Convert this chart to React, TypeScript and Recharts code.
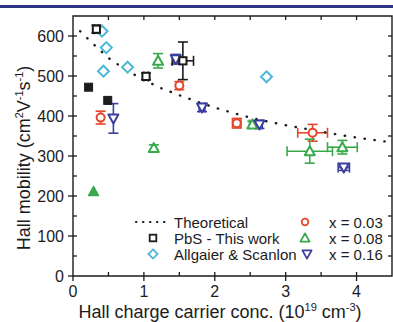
import {
  ErrorBar,
  ReferenceArea,
  ReferenceLine,
  Scatter,
  ScatterChart,
  XAxis,
  YAxis,
} from "recharts";

type Pt = { x: number; y: number; ex?: number; ey?: number };

const xTicks = [0, 1, 2, 3, 4];
const yTicks = [0, 100, 200, 300, 400, 500, 600];
const xMinorTicks = [0.5, 1, 1.5, 2, 2.5, 3, 3.5, 4];
const yMinorTicks = [50, 100, 150, 200, 250, 300, 350, 400, 450, 500, 550, 600];

const theoretical: Pt[] = [
  { x: 0.1, y: 612 },
  { x: 0.25, y: 586 },
  { x: 0.5, y: 545 },
  { x: 0.75, y: 515 },
  { x: 1.0, y: 490 },
  { x: 1.25, y: 469 },
  { x: 1.5, y: 452 },
  { x: 1.75, y: 436 },
  { x: 2.0, y: 421 },
  { x: 2.25, y: 408 },
  { x: 2.5, y: 396 },
  { x: 2.75, y: 386 },
  { x: 3.0, y: 377 },
  { x: 3.25, y: 369 },
  { x: 3.5, y: 361 },
  { x: 3.75, y: 353 },
  { x: 4.0, y: 346 },
  { x: 4.25, y: 340 },
  { x: 4.5, y: 334 },
];

const pbsOpen: Pt[] = [
  { x: 0.33, y: 617, ex: 0.03, ey: 10 },
  { x: 1.03, y: 499, ex: 0.03, ey: 8 },
  { x: 1.55, y: 538, ex: 0.15, ey: 47 },
];
const pbsFilled: Pt[] = [
  { x: 0.22, y: 472 },
  { x: 0.49, y: 439 },
];
const allgaier: Pt[] = [
  { x: 0.41, y: 612 },
  { x: 0.47, y: 571 },
  { x: 0.43, y: 512 },
  { x: 0.77, y: 522 },
  { x: 2.73, y: 498 },
];
const x003: Pt[] = [
  { x: 0.39, y: 396, ex: 0, ey: 16 },
  { x: 1.5, y: 476, ex: 0.02, ey: 10 },
  { x: 2.31, y: 382, ex: 0.06, ey: 12 },
  { x: 3.38, y: 358, ex: 0.21, ey: 21 },
];
const x008: Pt[] = [
  { x: 1.2, y: 538, ex: 0, ey: 18 },
  { x: 1.14, y: 320, ex: 0, ey: 8 },
  { x: 2.53, y: 379, ex: 0.04, ey: 8 },
  { x: 3.34, y: 312, ex: 0.32, ey: 30 },
  { x: 3.8, y: 322, ex: 0.21, ey: 17 },
];
const x008Filled: Pt[] = [{ x: 0.29, y: 211 }];
const x016: Pt[] = [
  { x: 0.57, y: 394, ex: 0, ey: 37 },
  { x: 1.45, y: 542, ex: 0.04, ey: 12 },
  { x: 1.82, y: 421, ex: 0.04, ey: 10 },
  { x: 2.63, y: 379, ex: 0.04, ey: 10 },
  { x: 3.82, y: 271, ex: 0.08, ey: 7 },
];

const INK = "#1c1c1c";
const RED = "#e4472c";
const GREEN = "#38a94c";
const BLUE = "#3b3f9d";
const CYAN = "#4db8d7";
const FONT = "'Liberation Sans', Arial, sans-serif";

// marker shapes, r = half size in px
const circle = (cx: number, cy: number, c: string, r: number, sw: number) => (
  <circle cx={cx} cy={cy} r={r} fill="#fff" stroke={c} strokeWidth={sw} />
);
const square = (cx: number, cy: number, c: string, r: number, sw: number, fill = "#fff") => (
  <rect x={cx - r} y={cy - r} width={r * 2} height={r * 2} fill={fill} stroke={c} strokeWidth={sw} />
);
const diamond = (cx: number, cy: number, c: string, r: number, sw: number) => (
  <polygon
    points={`${cx},${cy - r} ${cx + r},${cy} ${cx},${cy + r} ${cx - r},${cy}`}
    fill="#fff"
    stroke={c}
    strokeWidth={sw}
  />
);
const triUp = (cx: number, cy: number, c: string, r: number, sw: number, fill = "#fff") => (
  <polygon
    points={`${cx},${cy - r} ${cx + r},${cy + r * 0.8} ${cx - r},${cy + r * 0.8}`}
    fill={fill}
    stroke={c}
    strokeWidth={sw}
    strokeLinejoin="round"
  />
);
const triDown = (cx: number, cy: number, c: string, r: number, sw: number) => (
  <polygon
    points={`${cx - r},${cy - r * 0.8} ${cx + r},${cy - r * 0.8} ${cx},${cy + r}`}
    fill="#fff"
    stroke={c}
    strokeWidth={sw}
    strokeLinejoin="round"
  />
);

const errBars = (color: string) => [
  <ErrorBar key="ey" dataKey="ey" direction="y" width={5} stroke={color} strokeWidth={1.6} />,
  <ErrorBar key="ex" dataKey="ex" direction="x" width={5} stroke={color} strokeWidth={1.6} />,
];

function XTitle() {
  return (
    <text x={220} y={318} textAnchor="middle" fontSize={18} fontFamily={FONT} fill={INK}>
      Hall charge carrier conc. (10
      <tspan dy={-7} fontSize={11}>19</tspan>
      <tspan dy={7}> cm</tspan>
      <tspan dy={-7} fontSize={11}>-3</tspan>
      <tspan dy={7}>)</tspan>
    </text>
  );
}

function YTitle() {
  return (
    <text
      x={30}
      y={158}
      transform="rotate(-90 30 158)"
      textAnchor="middle"
      fontSize={18}
      fontFamily={FONT}
      fill={INK}
    >
      Hall mobility (cm
      <tspan dy={-7} fontSize={11}>2</tspan>
      <tspan dy={7}>V</tspan>
      <tspan dy={-7} fontSize={11}>-1</tspan>
      <tspan dy={7}>s</tspan>
      <tspan dy={-7} fontSize={11}>-1</tspan>
      <tspan dy={7}>)</tspan>
    </text>
  );
}

function LegendOverlay() {
  const t = { fontSize: 15, fontFamily: FONT, fill: INK, dominantBaseline: "central" as const };
  return (
    <svg
      width={393}
      height={322}
      style={{ position: "absolute", left: 0, top: 0, pointerEvents: "none" }}
    >
      <line
        x1={136}
        y1={222}
        x2={167}
        y2={222}
        stroke={INK}
        strokeWidth={2.2}
        strokeDasharray="0.4 6.6"
        strokeLinecap="round"
      />
      <text x={174} y={222} {...t}>Theoretical</text>
      {square(153, 238, INK, 3.3, 1.8)}
      <text x={174} y={238} {...t}>PbS - This work</text>
      {diamond(153, 254, CYAN, 4.6, 1.8)}
      <text x={174} y={254} {...t}>Allgaier &amp; Scanlon</text>

      {circle(305, 222, RED, 3.3, 1.8)}
      <text x={329} y={222} {...t}>x = 0.03</text>
      {triUp(305, 238, GREEN, 4.6, 1.8)}
      <text x={329} y={238} {...t}>x = 0.08</text>
      {triDown(307, 254, BLUE, 4.6, 1.8)}
      <text x={329} y={254} {...t}>x = 0.16</text>
    </svg>
  );
}

export default function App() {
  const tickStyle = { fontSize: 16, fontFamily: FONT, fill: INK };
  const tickLine = { stroke: INK, strokeWidth: 1.3 };
  const inward = { stroke: INK, strokeWidth: 1.3 };

  return (
    <div style={{ position: "relative", width: 393, height: 322, background: "#fff" }}>
      <style>{"body{margin:0}"}</style>
      <div
        style={{
          position: "absolute",
          left: 0,
          top: 5,
          width: 393,
          height: 2.5,
          background: "#2c3584",
        }}
      />
      <ScatterChart width={393} height={322} margin={{ top: 16, right: 1, bottom: 0, left: 0 }}>
        <XAxis
          type="number"
          dataKey="x"
          domain={[0, 4.5]}
          ticks={xTicks}
          interval={0}
          allowDataOverflow
          axisLine={false}
          tickLine={tickLine}
          tickSize={5}
          tickMargin={5}
          tick={tickStyle}
          height={46}
          label={{ content: () => <XTitle /> }}
        />
        <YAxis
          type="number"
          dataKey="y"
          domain={[0, 650]}
          ticks={yTicks}
          interval={0}
          allowDataOverflow
          axisLine={false}
          tickLine={tickLine}
          tickSize={5}
          tickMargin={4}
          tick={tickStyle}
          width={73}
          label={{ content: () => <YTitle /> }}
        />

        <ReferenceArea
          x1={0}
          x2={4.5}
          y1={0}
          y2={650}
          fill="none"
          fillOpacity={0}
          stroke={INK}
          strokeWidth={1.4}
        />
        {xMinorTicks.map((v) => (
          <ReferenceLine key={`xb${v}`} segment={[{ x: v, y: 0 }, { x: v, y: 10 }]} {...inward} />
        ))}
        {xMinorTicks.map((v) => (
          <ReferenceLine key={`xt${v}`} segment={[{ x: v, y: 650 }, { x: v, y: 640 }]} {...inward} />
        ))}
        {yMinorTicks.map((v) => (
          <ReferenceLine key={`yl${v}`} segment={[{ x: 0, y: v }, { x: 0.056, y: v }]} {...inward} />
        ))}
        {yMinorTicks.map((v) => (
          <ReferenceLine key={`yr${v}`} segment={[{ x: 4.5, y: v }, { x: 4.444, y: v }]} {...inward} />
        ))}

        <Scatter
          name="Theoretical"
          data={theoretical}
          isAnimationActive={false}
          line={{
            stroke: INK,
            strokeWidth: 2.4,
            strokeDasharray: "0.4 9.6",
            strokeLinecap: "round",
          }}
          lineType="joint"
          shape={() => <g />}
        />
        <Scatter
          name="Allgaier & Scanlon"
          data={allgaier}
          isAnimationActive={false}
          shape={(p: any) => diamond(p.cx, p.cy, CYAN, 5.5, 2)}
        />
        <Scatter
          name="PbS filled"
          data={pbsFilled}
          isAnimationActive={false}
          shape={(p: any) => square(p.cx, p.cy, INK, 4, 1, INK)}
        />
        <Scatter
          name="x = 0.08 filled"
          data={x008Filled}
          isAnimationActive={false}
          shape={(p: any) => triUp(p.cx, p.cy, GREEN, 5, 1.5, GREEN)}
        />
        <Scatter
          name="x = 0.03"
          data={x003}
          isAnimationActive={false}
          shape={(p: any) => circle(p.cx, p.cy, RED, 4, 2)}
        >
          {errBars(RED)}
        </Scatter>
        <Scatter
          name="x = 0.08"
          data={x008}
          isAnimationActive={false}
          shape={(p: any) => triUp(p.cx, p.cy, GREEN, 5, 2)}
        >
          {errBars(GREEN)}
        </Scatter>
        <Scatter
          name="x = 0.16"
          data={x016}
          isAnimationActive={false}
          shape={(p: any) => triDown(p.cx, p.cy, BLUE, 5, 2)}
        >
          {errBars(BLUE)}
        </Scatter>
        <Scatter
          name="PbS - This work"
          data={pbsOpen}
          isAnimationActive={false}
          shape={(p: any) => square(p.cx, p.cy, INK, 3.6, 2)}
        >
          {errBars(INK)}
        </Scatter>
      </ScatterChart>
      <LegendOverlay />
    </div>
  );
}
